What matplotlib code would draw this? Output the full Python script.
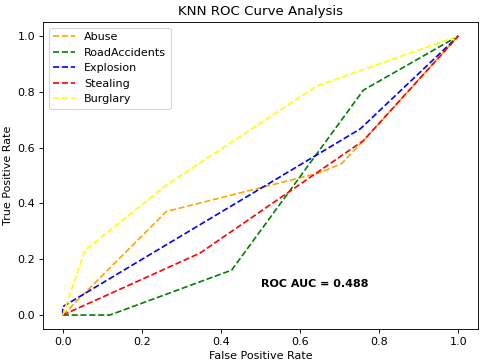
from matplotlib import pyplot as plt

# ROC points
classes = ['Abuse', 'RoadAccidents', 'Explosion', 'Stealing', 'Burglary']
colors = ['orange', 'green', 'blue', 'red', 'yellow']

abuse_fpr = [0.0, 0.262, 0.65, 0.705, 0.76, 1.0]
abuse_tpr = [0.0, 0.371, 0.51, 0.543, 0.625, 1.0]

road_fpr = [0.0, 0.119, 0.427, 0.76, 1.0]
road_tpr = [0.0, 0.0, 0.161, 0.806, 1.0]

expl_fpr = [0.0, 0.0, 0.752, 1.0]
expl_tpr = [0.0, 0.03, 0.667, 1.0]

steal_fpr = [0.0, 0.347, 0.76, 1.0]
steal_tpr = [0.0, 0.222, 0.625, 1.0]

burg_fpr = [0.0, 0.056, 0.26, 0.642, 1.0]
burg_tpr = [0.0, 0.232, 0.464, 0.821, 1.0]

fprs = [abuse_fpr, road_fpr, expl_fpr, steal_fpr, burg_fpr]
tprs = [abuse_tpr, road_tpr, expl_tpr, steal_tpr, burg_tpr]
roc_auc = 0.488


def main():
    fig, ax = plt.subplots(figsize=(6.0, 4.525), dpi=80)
    fig.subplots_adjust(left=0.0896, right=0.996, top=0.939, bottom=0.0912)

    for name, col, fpr, tpr in zip(classes, colors, fprs, tprs):
        ax.plot(fpr, tpr, linestyle='--', color=col, label=name)

    ax.text(0.5, 0.1, 'ROC AUC = %.3f' % roc_auc, fontweight='bold')
    ax.set_xlabel('False Positive Rate')
    ax.set_ylabel('True Positive Rate')
    ax.set_title('KNN ROC Curve Analysis')
    ax.legend(loc='upper left')

    fig.savefig('out.png', dpi=80)


if __name__ == "__main__":
    main()
